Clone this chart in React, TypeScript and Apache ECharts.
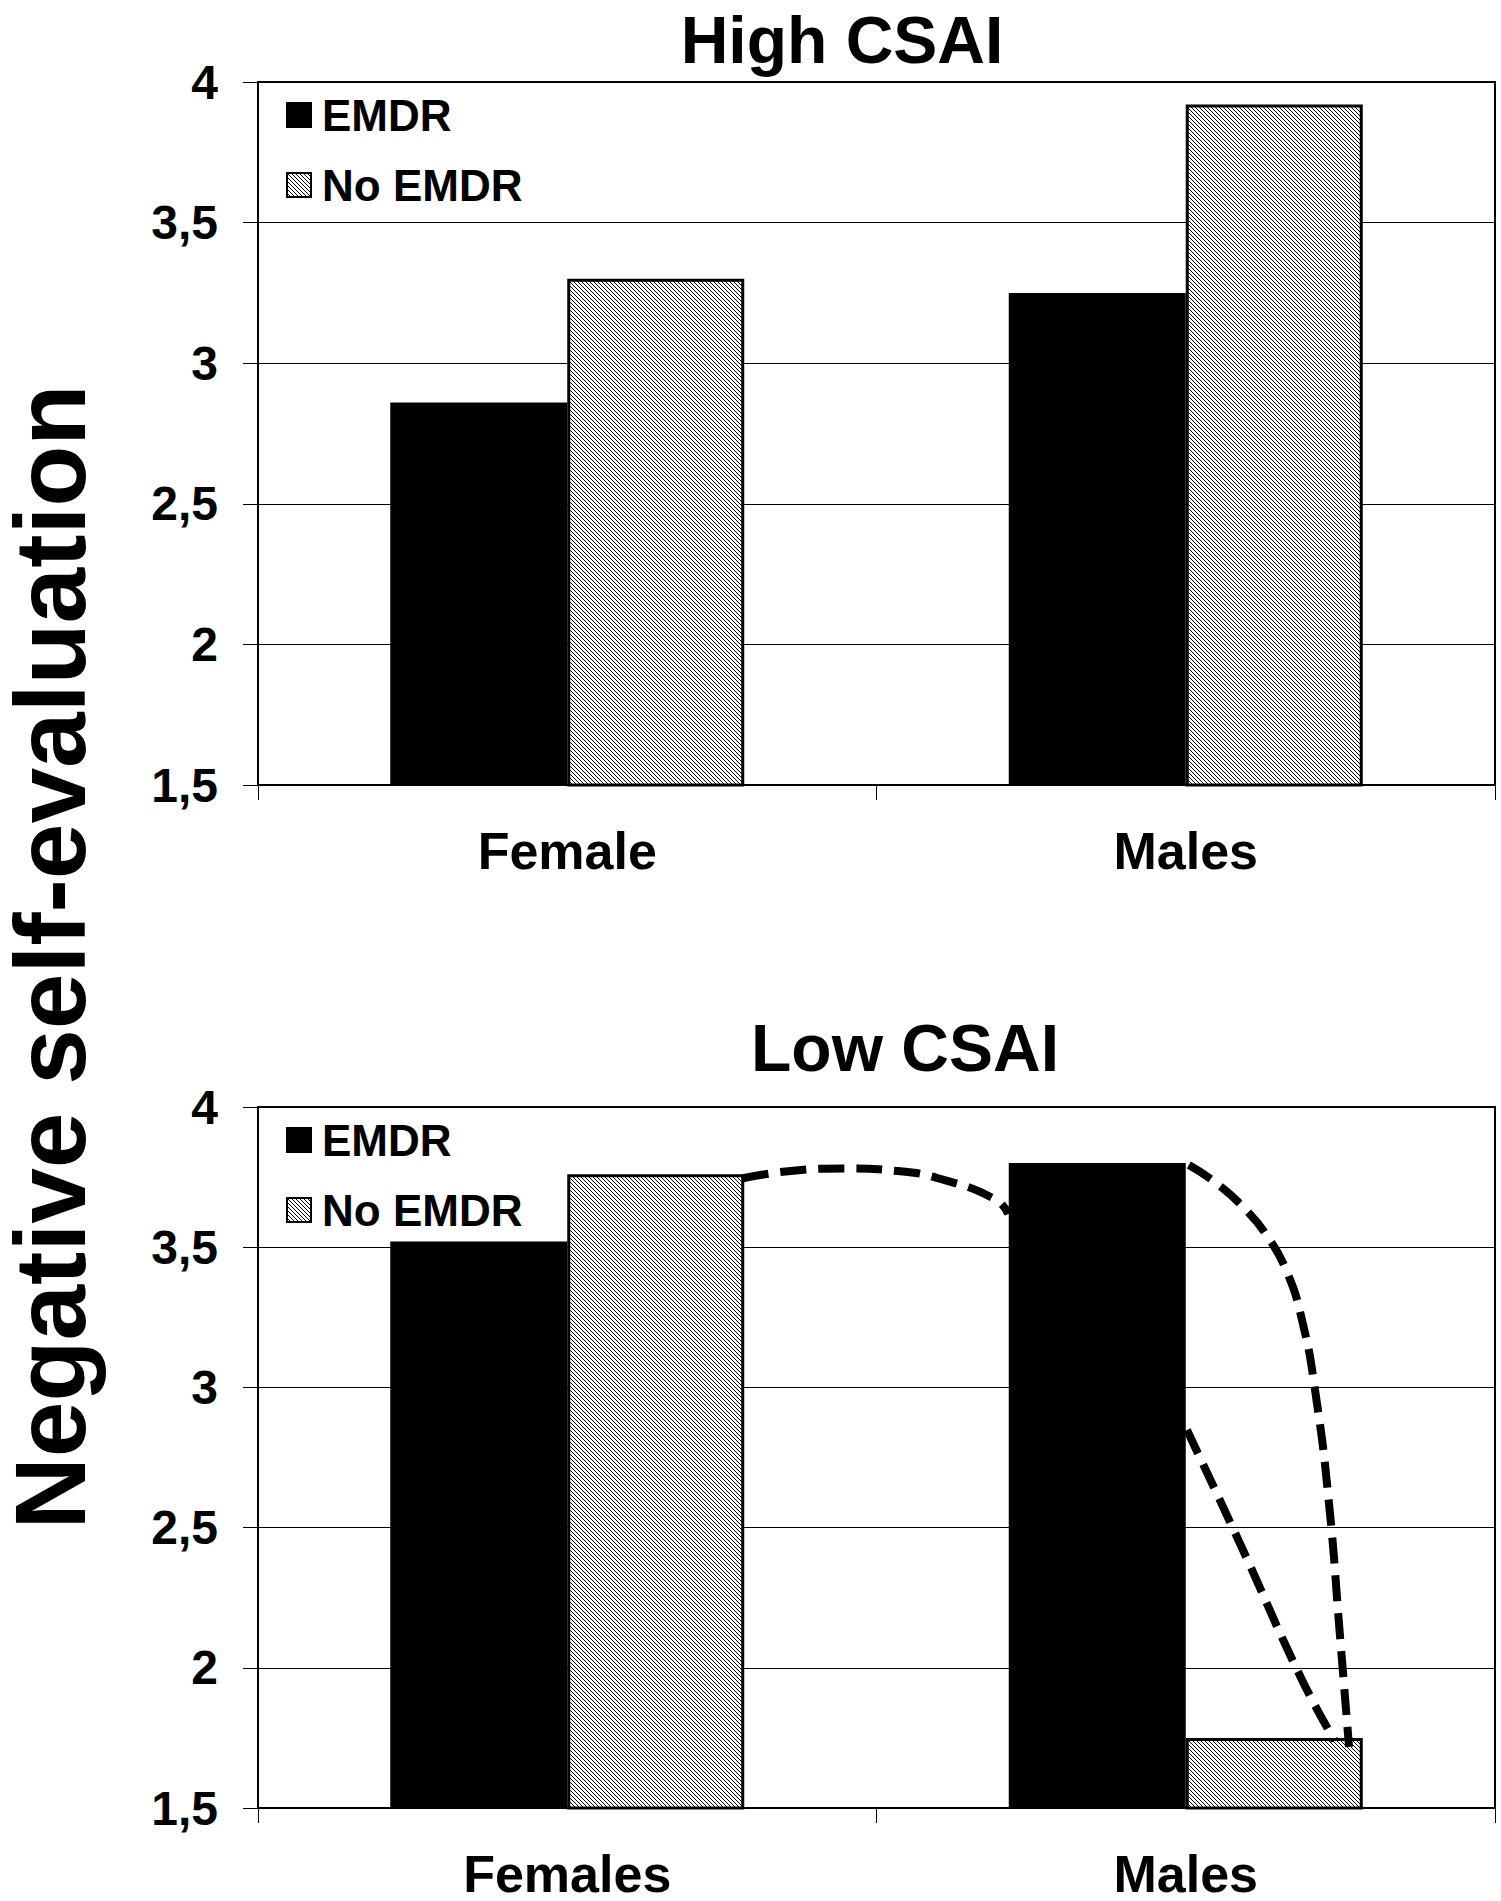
import React, { useEffect, useRef } from "react";
import * as echarts from "echarts";

// ---- data ----
const categoriesHigh = ["Female", "Males"];
const categoriesLow = ["Females", "Males"];
const seriesNames = ["EMDR", "No EMDR"];
const highEmdr = [2.86, 3.25];
const highNoEmdr = [3.3, 3.92];
const lowEmdr = [3.52, 3.8];
const lowNoEmdr = [3.76, 1.75];
const yTicks = [1.5, 2, 2.5, 3, 3.5, 4];
const yTickLabels = ["1,5", "2", "2,5", "3", "3,5", "4"];
const titles = ["High CSAI", "Low CSAI"];
const yTitle = "Negative self-evaluation";

// hand-drawn dashed annotation curves in the lower panel (x: category position 0..2, y: value)
const curveArch = [
  [0.784, 3.746],
  [0.861, 3.772],
  [0.946, 3.781],
  [1.032, 3.772],
  [1.109, 3.74],
  [1.194, 3.668],
  [1.213, 3.618],
];
const curveDrop = [
  [1.505, 3.793],
  [1.551, 3.726],
  [1.596, 3.636],
  [1.63, 3.545],
  [1.662, 3.42],
  [1.688, 3.24],
  [1.71, 2.976],
  [1.732, 2.577],
  [1.749, 2.124],
  [1.764, 1.718],
];
const curveDiag = [
  [1.502, 2.848],
  [1.59, 2.432],
  [1.687, 1.961],
  [1.741, 1.74],
];

const FONT = '"Liberation Sans", Arial, Helvetica, sans-serif';

function makeHatch(): string {
  const c = document.createElement("canvas");
  c.width = 4;
  c.height = 4;
  const g = c.getContext("2d")!;
  g.fillStyle = "#fff";
  g.fillRect(0, 0, 4, 4);
  g.strokeStyle = "#000";
  g.lineWidth = 1;
  g.beginPath();
  g.moveTo(-1, -1);
  g.lineTo(5, 5);
  g.moveTo(-1, 3);
  g.lineTo(1, 5);
  g.moveTo(3, -1);
  g.lineTo(5, 1);
  g.stroke();
  return c.toDataURL();
}

export default function App() {
  const ref = useRef<HTMLDivElement>(null);

  useEffect(() => {
    if (!ref.current) return;
    const chart = echarts.init(ref.current, undefined, { renderer: "svg" });
    const hatch = { image: makeHatch(), repeat: "repeat", imageWidth: 4, imageHeight: 4 };

    const gridTops = [82, 1107];
    const gridHeights = [703, 701];

    const yLabel = (v: number) => {
      const i = yTicks.indexOf(v);
      return i >= 0 ? yTickLabels[i] : String(v).replace(".", ",");
    };

    const grids = gridTops.map((t, i) => ({
      left: 258,
      top: t,
      width: 1237,
      height: gridHeights[i],
      show: true,
      borderColor: "#000",
      borderWidth: 2,
      backgroundColor: "transparent",
    }));

    const catAxis = (data: string[], gridIndex: number) => ({
      type: "category",
      gridIndex,
      data,
      axisLine: { lineStyle: { color: "#000", width: 2 } },
      axisTick: { show: true, length: 15, lineStyle: { color: "#000", width: 1 } },
      axisLabel: {
        color: "#000",
        fontFamily: FONT,
        fontWeight: "bold",
        fontSize: 52,
        margin: 40,
      },
      splitLine: { show: false },
    });

    const valAxis = (gridIndex: number) => ({
      type: "value",
      gridIndex,
      min: 1.5,
      max: 4,
      interval: 0.5,
      axisLine: { show: true, lineStyle: { color: "#000", width: 2 } },
      axisTick: { show: true, length: 15, lineStyle: { color: "#000", width: 1 } },
      axisLabel: {
        color: "#000",
        fontFamily: FONT,
        fontWeight: "bold",
        fontSize: 48,
        margin: 40,
        formatter: yLabel,
      },
      splitLine: { show: true, lineStyle: { color: "#000", width: 1 } },
    });

    const barSeries = (name: string, data: number[], idx: number, hatched: boolean) => ({
      name,
      type: "bar",
      xAxisIndex: idx,
      yAxisIndex: idx,
      data,
      barWidth: 177,
      barGap: "0%",
      itemStyle: hatched
        ? { color: hatch, borderColor: "#000", borderWidth: 3 }
        : { color: "#000", borderColor: "#000", borderWidth: 0 },
    });

    const dashSeries = (name: string, data: number[][]) => ({
      name,
      type: "line",
      xAxisIndex: 2,
      yAxisIndex: 1,
      data,
      smooth: 0.5,
      symbol: "none",
      silent: true,
      z: 5,
      lineStyle: { color: "#000", width: 8, type: [26, 12], cap: "butt" },
    });

    const legend = (top: number) => ({
      data: seriesNames,
      orient: "vertical",
      left: 286,
      top,
      padding: 0,
      itemWidth: 24,
      itemHeight: 24,
      itemGap: 24,
      icon: "rect",
      selectedMode: false,
      itemStyle: { borderColor: "#000", borderWidth: 2 },
      textStyle: {
        color: "#000",
        fontFamily: FONT,
        fontWeight: "bold",
        fontSize: 44,
        lineHeight: 46,
        padding: [0, 0, 0, 6],
      },
    });

    chart.setOption({
      animation: false,
      backgroundColor: "#fff",
      grid: grids,
      xAxis: [
        catAxis(categoriesHigh, 0),
        catAxis(categoriesLow, 1),
        { type: "value", gridIndex: 1, min: 0, max: 2, show: false },
      ],
      yAxis: [valAxis(0), valAxis(1)],
      legend: [legend(92), legend(1117)],
      series: [
        barSeries(seriesNames[0], highEmdr, 0, false),
        barSeries(seriesNames[1], highNoEmdr, 0, true),
        barSeries(seriesNames[0], lowEmdr, 1, false),
        barSeries(seriesNames[1], lowNoEmdr, 1, true),
        dashSeries("arch", curveArch),
        dashSeries("drop", curveDrop),
        dashSeries("diag", curveDiag),
      ],
      graphic: [
        {
          type: "text",
          x: 842,
          y: 40,
          style: {
            text: titles[0],
            font: `bold 66px ${FONT}`,
            fill: "#000",
            align: "center",
            verticalAlign: "middle",
          },
        },
        {
          type: "text",
          x: 905,
          y: 1048,
          style: {
            text: titles[1],
            font: `bold 66px ${FONT}`,
            fill: "#000",
            align: "center",
            verticalAlign: "middle",
          },
        },
        {
          type: "text",
          x: 50,
          y: 957,
          rotation: Math.PI / 2,
          style: {
            text: yTitle,
            font: `bold 100px ${FONT}`,
            fill: "#000",
            align: "center",
            verticalAlign: "middle",
          },
        },
      ],
    });

    return () => chart.dispose();
  }, []);

  return (
    <div
      ref={ref}
      style={{ position: "absolute", left: 0, top: 0, width: 1501, height: 1901, background: "#fff" }}
    />
  );
}
